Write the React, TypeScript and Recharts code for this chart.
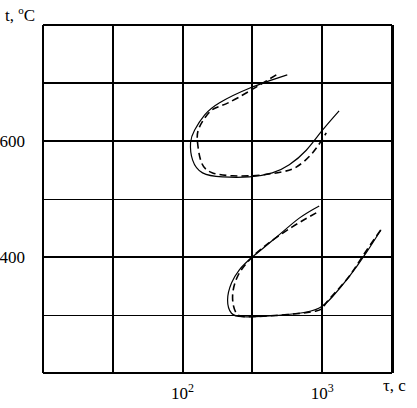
import React from "react";
import {
  LineChart,
  Line,
  XAxis,
  YAxis,
  ReferenceLine,
} from "recharts";

// upper C-curve, solid
const upperSolidTau = [562, 301, 184, 144, 122, 114, 118, 139, 193, 301, 439, 581, 769, 984, 1322];
const upperSolidTemp = [714, 691, 666, 645, 619, 597, 567, 545, 538, 538, 545, 559, 584, 616, 652];

// upper C-curve, dashed
const upperDashTau = [469, 217, 161, 132, 128, 137, 164, 228, 355, 518, 652, 849, 1069];
const upperDashTemp = [714, 667, 653, 624, 597, 562, 545, 540, 541, 547, 555, 579, 614];

// lower C-curve, solid
const lowerSolidTau = [952, 685, 469, 316, 255, 224, 210, 224, 268, 398, 685, 952, 1179, 1560, 2063, 2638];
const lowerSolidTemp = [488, 467, 434, 400, 378, 355, 326, 303, 297, 298, 303, 312, 331, 366, 407, 447];

// lower C-curve, dashed
const lowerDashTau = [906, 611, 398, 301, 247, 228, 243, 301, 518, 906, 1069, 1483, 1931, 2685];
const lowerDashTemp = [476, 452, 421, 395, 366, 331, 303, 297, 300, 307, 321, 360, 400, 450];

const xGrid = [10, 31.62, 100, 316.2, 1000, 3162];
const yGrid = [200, 300, 400, 500, 600, 700, 800];
const xTicks = [100, 1000];
const yTicks = [400, 600];

const toPoints = (tau: number[], temp: number[]) =>
  tau.map((t, i) => ({ tau: t, temp: temp[i] }));

const FONT = "'Liberation Serif', 'DejaVu Serif', serif";

const XTick = (props: any) => {
  const { x, y, payload } = props;
  const exp = Math.round(Math.log10(payload.value));
  return (
    <text x={x} y={y + 18} textAnchor="middle" fontFamily={FONT} fontSize={17} fill="#000">
      10
      <tspan dy={-7} fontSize={12}>
        {exp}
      </tspan>
    </text>
  );
};

const YTick = (props: any) => {
  const { x, y, payload } = props;
  return (
    <text x={x - 10} y={y + 6} textAnchor="end" fontFamily={FONT} fontSize={17} fill="#000">
      {payload.value}
    </text>
  );
};

export default function App() {
  return (
    <div style={{ position: "absolute", left: 0, top: 0, width: 417, height: 408, background: "#fff" }}>
      <LineChart
        width={417}
        height={408}
        margin={{ top: 25, right: 25, bottom: 0, left: 0 }}
      >
        <XAxis
          dataKey="tau"
          type="number"
          scale="log"
          domain={[10, 3162]}
          ticks={xTicks}
          allowDataOverflow
          axisLine={false}
          tickLine={false}
          height={35}
          tick={<XTick />}
        />
        <YAxis
          dataKey="temp"
          type="number"
          domain={[200, 800]}
          ticks={yTicks}
          axisLine={false}
          tickLine={false}
          width={43}
          tick={<YTick />}
        />
        {yGrid.map((v) => (
          <ReferenceLine
            key={`y-${v}`}
            y={v}
            stroke="#000"
            strokeWidth={v === 300 || v === 500 ? 1 : 2}
            shapeRendering="crispEdges"
          />
        ))}
        {xGrid.map((v, i) => (
          <ReferenceLine
            key={`x-${v}`}
            x={v}
            stroke="#000"
            strokeWidth={i === xGrid.length - 1 ? 3 : 2}
            shapeRendering="crispEdges"
          />
        ))}
        <Line
          data={toPoints(upperSolidTau, upperSolidTemp)}
          dataKey="temp"
          type="natural"
          stroke="#000"
          strokeWidth={1.2}
          dot={false}
          isAnimationActive={false}
        />
        <Line
          data={toPoints(upperDashTau, upperDashTemp)}
          dataKey="temp"
          type="natural"
          stroke="#000"
          strokeWidth={1.6}
          strokeDasharray="7 4"
          dot={false}
          isAnimationActive={false}
        />
        <Line
          data={toPoints(lowerSolidTau, lowerSolidTemp)}
          dataKey="temp"
          type="natural"
          stroke="#000"
          strokeWidth={1.2}
          dot={false}
          isAnimationActive={false}
        />
        <Line
          data={toPoints(lowerDashTau, lowerDashTemp)}
          dataKey="temp"
          type="natural"
          stroke="#000"
          strokeWidth={1.6}
          strokeDasharray="7 4"
          dot={false}
          isAnimationActive={false}
        />
      </LineChart>
      <span
        style={{ position: "absolute", left: 5, top: 0, fontFamily: FONT, fontSize: 17, lineHeight: "20px" }}
      >
        t, <sup style={{ fontSize: 11 }}>o</sup>C
      </span>
      <span
        style={{ position: "absolute", left: 383, top: 376, fontFamily: FONT, fontSize: 17, lineHeight: "20px" }}
      >
        τ, c
      </span>
    </div>
  );
}
